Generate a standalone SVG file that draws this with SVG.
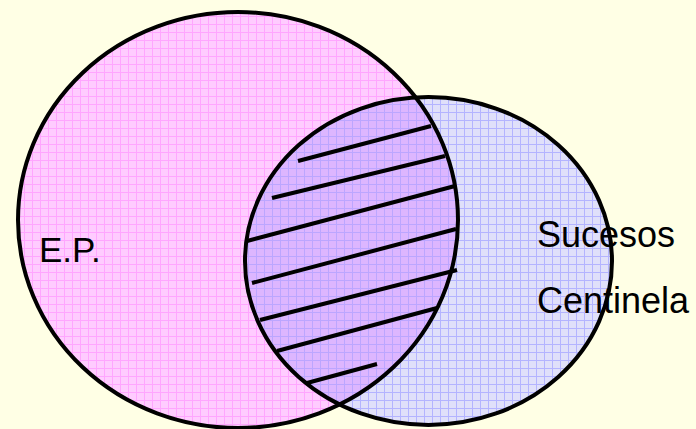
<svg xmlns="http://www.w3.org/2000/svg" width="696" height="429" viewBox="0 0 696 429">
<style>
.outline{fill:none;stroke:#000;stroke-width:4}
.hatch{stroke:#000;stroke-width:4;stroke-linecap:butt}
.label{font-family:"Liberation Sans",Arial,sans-serif;font-size:36px;fill:#000}
</style>
<defs>
<pattern id="pinkPat" width="8" height="8" patternUnits="userSpaceOnUse">
<rect width="8" height="8" fill="#FFCCFF"/>
<rect x="0" y="0" width="8" height="1" fill="#FFA6FF"/>
<rect x="0" y="0" width="1" height="8" fill="#FFA6FF"/>
</pattern>
<pattern id="bluePat" width="8" height="8" patternUnits="userSpaceOnUse">
<rect width="8" height="8" fill="#E0E0FA"/>
<rect x="0" y="0" width="8" height="1" fill="#B4B4FF"/>
<rect x="0" y="0" width="1" height="8" fill="#B4B4FF"/>
</pattern>
<pattern id="purplePat" width="8" height="8" patternUnits="userSpaceOnUse">
<rect width="8" height="8" fill="#DDB6FF"/>
<rect x="0" y="0" width="8" height="1" fill="#BCA6FF"/>
<rect x="0" y="0" width="1" height="8" fill="#BCA6FF"/>
</pattern>
<clipPath id="blueClip"><ellipse cx="428.5" cy="261" rx="183.5" ry="164"/></clipPath>
</defs>
<rect width="696" height="429" fill="#FFFFE5"/>
<g id="ep">
<ellipse cx="238" cy="220" rx="220" ry="208" fill="url(#pinkPat)"/>
</g>
<g id="sucesos">
<ellipse cx="428.5" cy="261" rx="183.5" ry="164" fill="url(#bluePat)"/>
</g>
<g id="interseccion">
<ellipse cx="238" cy="220" rx="220" ry="208" fill="url(#purplePat)" clip-path="url(#blueClip)"/>
</g>
<g id="outlines">
<ellipse class="outline" cx="238" cy="220" rx="220" ry="208"/>
<ellipse class="outline" cx="428.5" cy="261" rx="183.5" ry="164"/>
</g>
<g id="connectors">
<line class="hatch" x1="298" y1="161" x2="431" y2="126"/>
<line class="hatch" x1="272" y1="198" x2="445" y2="156"/>
<line class="hatch" x1="247" y1="241" x2="455" y2="186"/>
<line class="hatch" x1="252" y1="283" x2="456" y2="229"/>
<line class="hatch" x1="260" y1="320" x2="457" y2="270"/>
<line class="hatch" x1="277" y1="351" x2="437" y2="308"/>
<line class="hatch" x1="307" y1="383" x2="377" y2="364"/>
</g>
<g id="labels">
<text class="label" x="39" y="262" style="font-size:35px">E.P.</text>
<text class="label" x="537" y="247">Sucesos</text>
<text class="label" x="537" y="313">Centinela</text>
</g>
</svg>
